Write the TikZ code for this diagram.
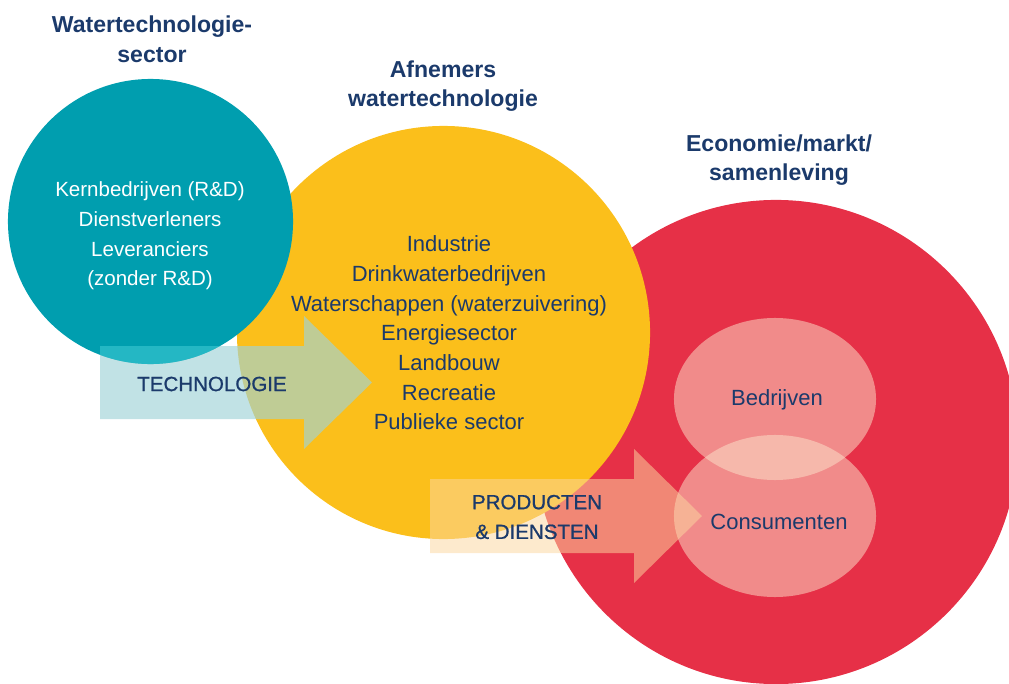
\documentclass[tikz,border=0pt]{standalone}
\usepackage{fontspec}
\setmainfont{Liberation Sans}
\newfontfamily\mediumfont[FakeBold=0.9]{Liberation Sans}
\usepackage{tikz}
\usetikzlibrary{positioning}
\usepackage{xcolor}

\definecolor{tealc}{RGB}{0,158,175}
\definecolor{tealbright}{RGB}{36,183,196}
\definecolor{yellowc}{RGB}{251,191,27}
\definecolor{redc}{RGB}{230,48,71}
\definecolor{navy}{RGB}{27,58,107}
\definecolor{techarrow}{RGB}{160,211,215}
\definecolor{prodarrow}{RGB}{252,215,160}
\definecolor{ovalc}{RGB}{252,230,205}

\tikzset{
  title/.style={font=\fontsize{16.4}{21.1}\selectfont\bfseries, text=navy, align=center},
  listtext/.style={font=\fontsize{15.65}{21.1}\selectfont, text=navy, align=center},
  arrowtext/.style={font=\fontsize{14.6}{21.1}\selectfont\mediumfont, text=navy, align=center}
}

\begin{document}
\begin{tikzpicture}[x=0.025cm, y=-0.025cm]

\useasboundingbox (0,0) rectangle (1009,684);
\clip (0,0) rectangle (1009,684);

% circles
\fill[redc] (776,442) circle [radius=6.05cm];
\fill[yellowc] (443.5,332.5) circle [radius=5.1625cm];
\fill[tealc] (150.5,221.5) circle [radius=3.5625cm];

% ovals
\fill[ovalc, opacity=0.5] (775,399) ellipse [x radius=2.525cm, y radius=2.025cm];
\fill[ovalc, opacity=0.5] (775,516) ellipse [x radius=2.525cm, y radius=2.025cm];

% arrows
\fill[techarrow, opacity=0.65] (100,346)--(304,346)--(304,316)--(372,382.5)--(304,449)--(304,419)--(100,419)--cycle;
\begin{scope}
\clip (150.5,221.5) circle [radius=3.5625cm];
\fill[tealbright] (100,346) rectangle (304,419);
\end{scope}

\fill[prodarrow, opacity=0.52] (430,479)--(634,479)--(634,449)--(702,516)--(634,583)--(634,553)--(430,553)--cycle;


\node[title] (sectortitle) at (152,39) {Watertechnologie-\\sector};
\node[title] (afnemerstitle) at (443,86) {Afnemers\\watertechnologie};
\node[title] (economietitle) at (779,160) {Economie/markt/\\samenleving};

\node[listtext, font=\fontsize{14.6}{21.1}\selectfont, text=white] (sectorlist) at (150,236) {Kernbedrijven (R\&D)\\Dienstverleners\\Leveranciers\\(zonder R\&D)};
\node[listtext] (afnemerslist) at (449,333) {Industrie\\Drinkwaterbedrijven\\Waterschappen (waterzuivering)\\Energiesector\\Landbouw\\Recreatie\\Publieke sector};

\node[listtext] (bedrijven) at (777,400) {Bedrijven};
\node[listtext] (consumenten) at (779,522) {Consumenten};

\node[arrowtext] (technologie) at (212,384) {TECHNOLOGIE};
\node[arrowtext] (producten) at (537,517) {PRODUCTEN\\\& DIENSTEN};

\end{tikzpicture}
\end{document}
